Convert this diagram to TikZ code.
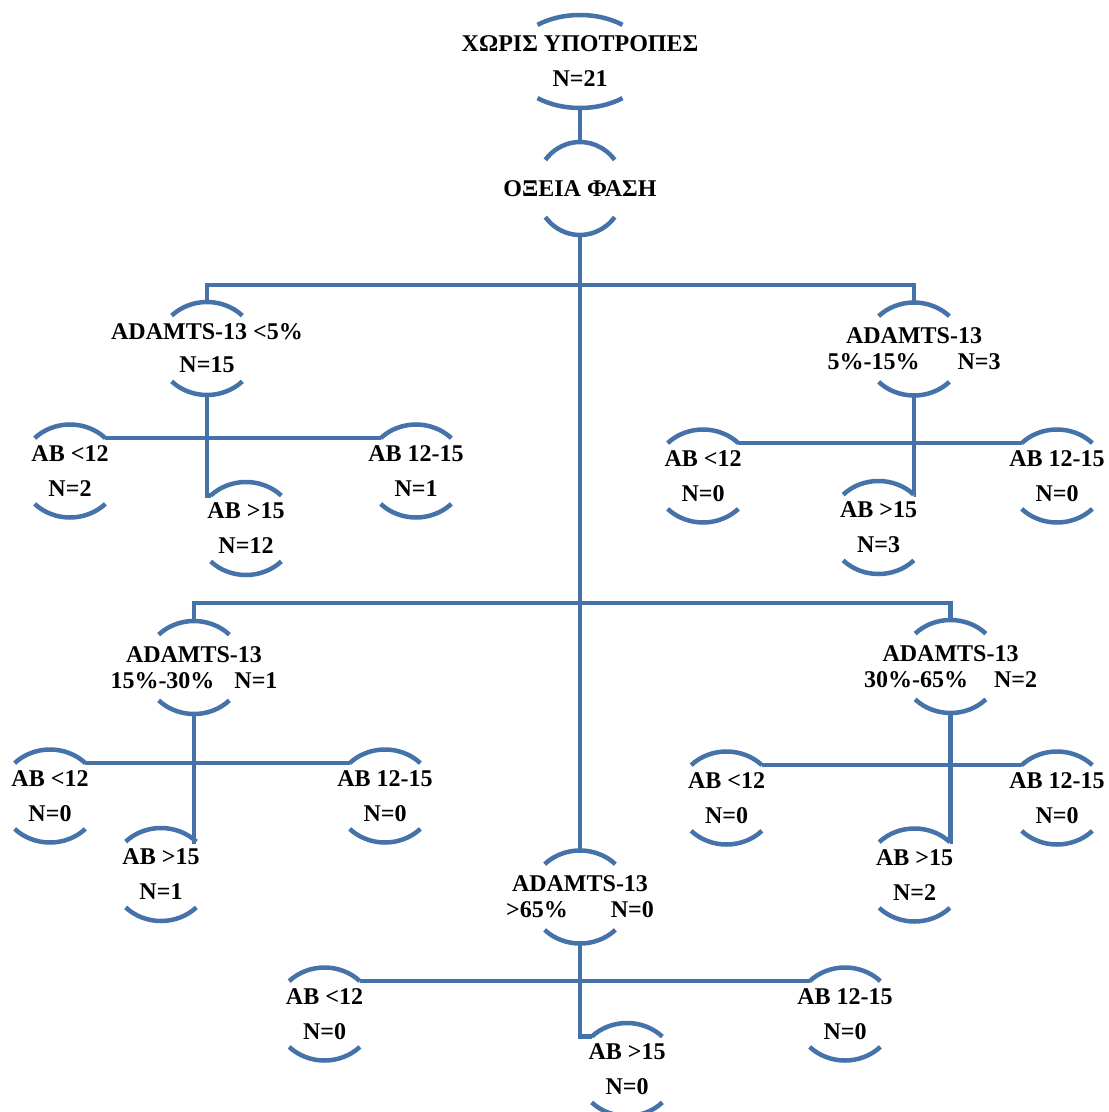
\documentclass[tikz,border=0pt]{standalone}
\usepackage{fontspec}
\setmainfont{Liberation Serif}
\usepackage{tikz}

\definecolor{treeblue}{RGB}{70,114,170}
\tikzset{
  arcline/.style={draw=treeblue, line width=2.25pt},
  conn/.style={draw=treeblue, line width=2.25pt},
  box/.style={minimum height=46.5pt, inner sep=0pt, align=center,
    font=\fontsize{12}{13}\selectfont\bfseries}
}
% top and bottom arc of a node, plus its two top corners
\newcommand{\rings}[3][50]{%
  \pgfmathsetmacro\ringend{180-#3}
  \draw[arcline] ([shift={(#3:#1 and 46.5)}]#2.center)
    arc[start angle=#3, end angle=\ringend, x radius=#1, y radius=46.5];
  \draw[arcline] ([shift={(-#3:#1 and 46.5)}]#2.center)
    arc[start angle=-#3, end angle=-\ringend, x radius=#1, y radius=46.5];
  \coordinate (#2-tl) at ([shift={(\ringend:#1 and 46.5)}]#2.center);
  \coordinate (#2-tr) at ([shift={(#3:#1 and 46.5)}]#2.center);
}

\begin{document}
\begin{tikzpicture}[x=0.5pt, y=0.5pt]
  \useasboundingbox (0,0) rectangle (1108,-1112);

  \node[box] (root) at (580,-61.5) {ΧΩΡΙΣ ΥΠΟΤΡΟΠΕΣ\\[4.5pt]N=21};
  \node[box] (acute) at (580,-188.5) {ΟΞΕΙΑ ΦΑΣΗ};

  \node[box] (lt5) at (207,-348.5) {ADAMTS-13 <5\%\\[3.5pt]N=15};
  \node[box] (r515) at (914,-349) {ADAMTS-13\\5\%-15\%\hspace{19pt}N=3};
  \node[box] (r1530) at (194,-667.5) {ADAMTS-13\\15\%-30\%\hspace{10pt}N=1};
  \node[box] (r3065) at (950.5,-666.5) {ADAMTS-13\\30\%-65\%\hspace{13pt}N=2};
  \node[box] (gt65) at (580,-897) {ADAMTS-13\\>65\%\hspace{21.5pt}N=0};

  % AB groups
  \node[box] (lt5lo) at (70,-471) {AB <12\\[4.5pt]N=2};
  \node[box] (lt5hi) at (246,-528.5) {AB >15\\[4.5pt]N=12};
  \node[box] (lt5md) at (416,-471) {AB 12-15\\[4.5pt]N=1};

  \node[box] (r515lo) at (703,-476) {AB <12\\[4.5pt]N=0};
  \node[box] (r515hi) at (878.5,-527.5) {AB >15\\[4.5pt]N=3};
  \node[box] (r515md) at (1057,-476) {AB 12-15\\[4.5pt]N=0};

  \node[box] (r1530lo) at (50,-796) {AB <12\\[4.5pt]N=0};
  \node[box] (r1530hi) at (161,-874.5) {AB >15\\[4.5pt]N=1};
  \node[box] (r1530md) at (385,-796) {AB 12-15\\[4.5pt]N=0};

  \node[box] (r3065lo) at (726.5,-798) {AB <12\\[4.5pt]N=0};
  \node[box] (r3065hi) at (914.5,-875) {AB >15\\[4.5pt]N=2};
  \node[box] (r3065md) at (1057,-798) {AB 12-15\\[4.5pt]N=0};

  \node[box] (gt65lo) at (324.5,-1014) {AB <12\\[4.5pt]N=0};
  \node[box] (gt65hi) at (627,-1069.5) {AB >15\\[4.5pt]N=0};
  \node[box] (gt65md) at (845,-1014) {AB 12-15\\[4.5pt]N=0};

  \rings[69]{root}{52}
  \rings[44]{acute}{38}
  \foreach \n in {lt5,r515,r1530,r3065,gt65,
      lt5lo,lt5hi,lt5md,r515lo,r515hi,r515md,r1530lo,r1530hi,r1530md,
      r3065lo,r3065hi,r3065md,gt65lo,gt65hi,gt65md}
    {\rings{\n}{45}}

  \coordinate (bus1) at (580,-285);
  \coordinate (bus2) at (580,-603);

  \draw[conn] (root.south) -- (acute.north);
  \draw[conn] (acute.south) -- (gt65.north);
  \draw[conn] (lt5.north) |- (bus1) -| (r515.north);
  \draw[conn] (r1530.north) |- (bus2) -| (r3065.north);

  \draw[conn] (lt5lo-tr) -- (lt5md-tl);
  \draw[conn] (lt5.south) |- (lt5hi-tl);
  \draw[conn] (r515lo-tr) -- (r515md-tl);
  \draw[conn] (r515.south) |- (r515hi-tr);
  \draw[conn] (r1530lo-tr) -- (r1530md-tl);
  \draw[conn] (r1530.south) |- (r1530hi-tr);
  \draw[conn] (r3065lo-tr) -- (r3065md-tl);
  \draw[conn] (r3065.south) |- (r3065hi-tr);
  \draw[conn] (gt65lo-tr) -- (gt65md-tl);
  \draw[conn] (gt65.south) |- (gt65hi-tl);
\end{tikzpicture}
\end{document}
